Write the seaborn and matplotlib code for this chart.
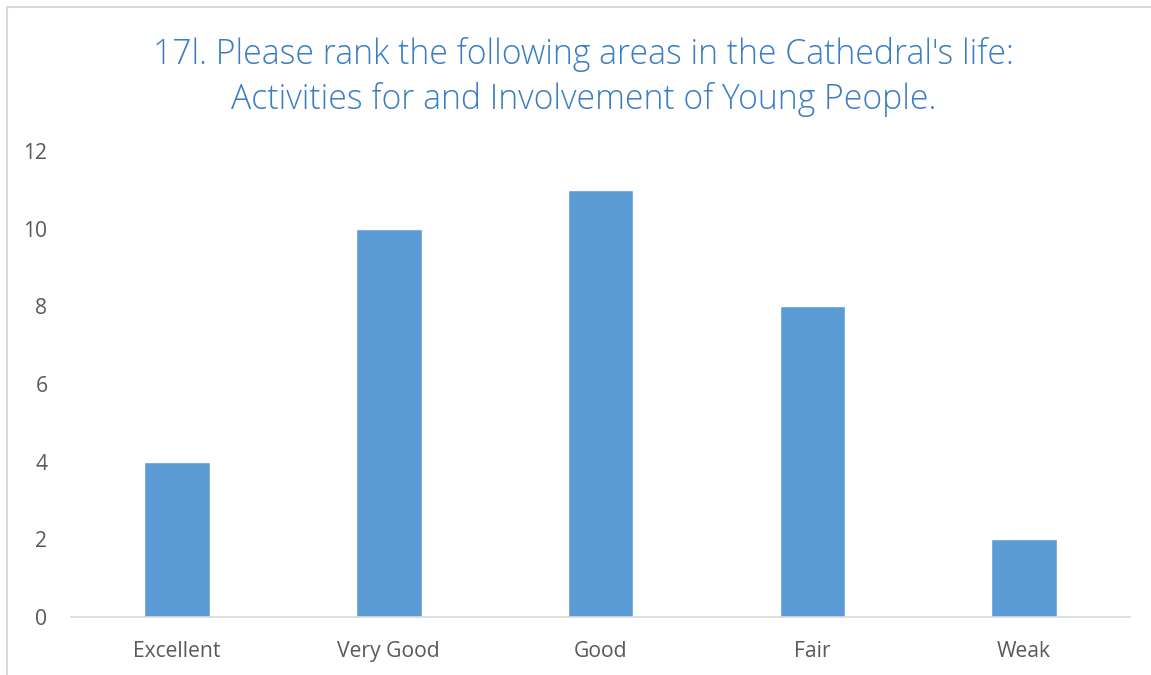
import matplotlib
matplotlib.use("Agg")
import matplotlib.pyplot as plt
import seaborn as sns

# survey answers, question 17l
categories = ["Excellent", "Very Good", "Good", "Fair", "Weak"]
counts = [4, 10, 11, 8, 2]
y_ticks = [0, 2, 4, 6, 8, 10, 12]
title = "17l. Please rank the following areas in the Cathedral's life:\nActivities for and Involvement of Young People."

sns.set_theme(style="white")
plt.rcParams["font.family"] = ["Open Sans", "DejaVu Sans"]

fig = plt.figure(figsize=(11.51, 6.75), dpi=100)
ax = fig.add_axes([0.0617, 0.0859, 0.9201, 0.6904])

sns.barplot(x=categories, y=counts, color="#5B9BD5", saturation=1, width=0.31, ax=ax)

ax.set_xlim(-0.5, 4.5)
ax.set_ylim(0, 12)
ax.set_yticks(y_ticks)
ax.set_xlabel("")
ax.set_ylabel("")
for s in ["top", "right", "left"]:
    ax.spines[s].set_visible(False)
ax.spines["bottom"].set_color("#D9D9D9")
ax.spines["bottom"].set_linewidth(1.2)
ax.tick_params(axis="both", length=0, labelsize=15.2, colors="#595959")
ax.tick_params(axis="y", pad=17)
ax.tick_params(axis="x", pad=17)

fig.text(0.507, 0.886, title, ha="center", va="center", fontsize=24.3,
         color="#3A7DC3", linespacing=1.36, fontweight="light")

# chart frame (only left and top edges fall inside the picture)
fig.add_artist(plt.Line2D([7 / 1151, 7 / 1151], [0, 1 - 7 / 675], color="#D9D9D9", lw=1.5))
fig.add_artist(plt.Line2D([7 / 1151, 1], [1 - 7 / 675, 1 - 7 / 675], color="#D9D9D9", lw=1.5))

fig.savefig("out.png", dpi=100)
